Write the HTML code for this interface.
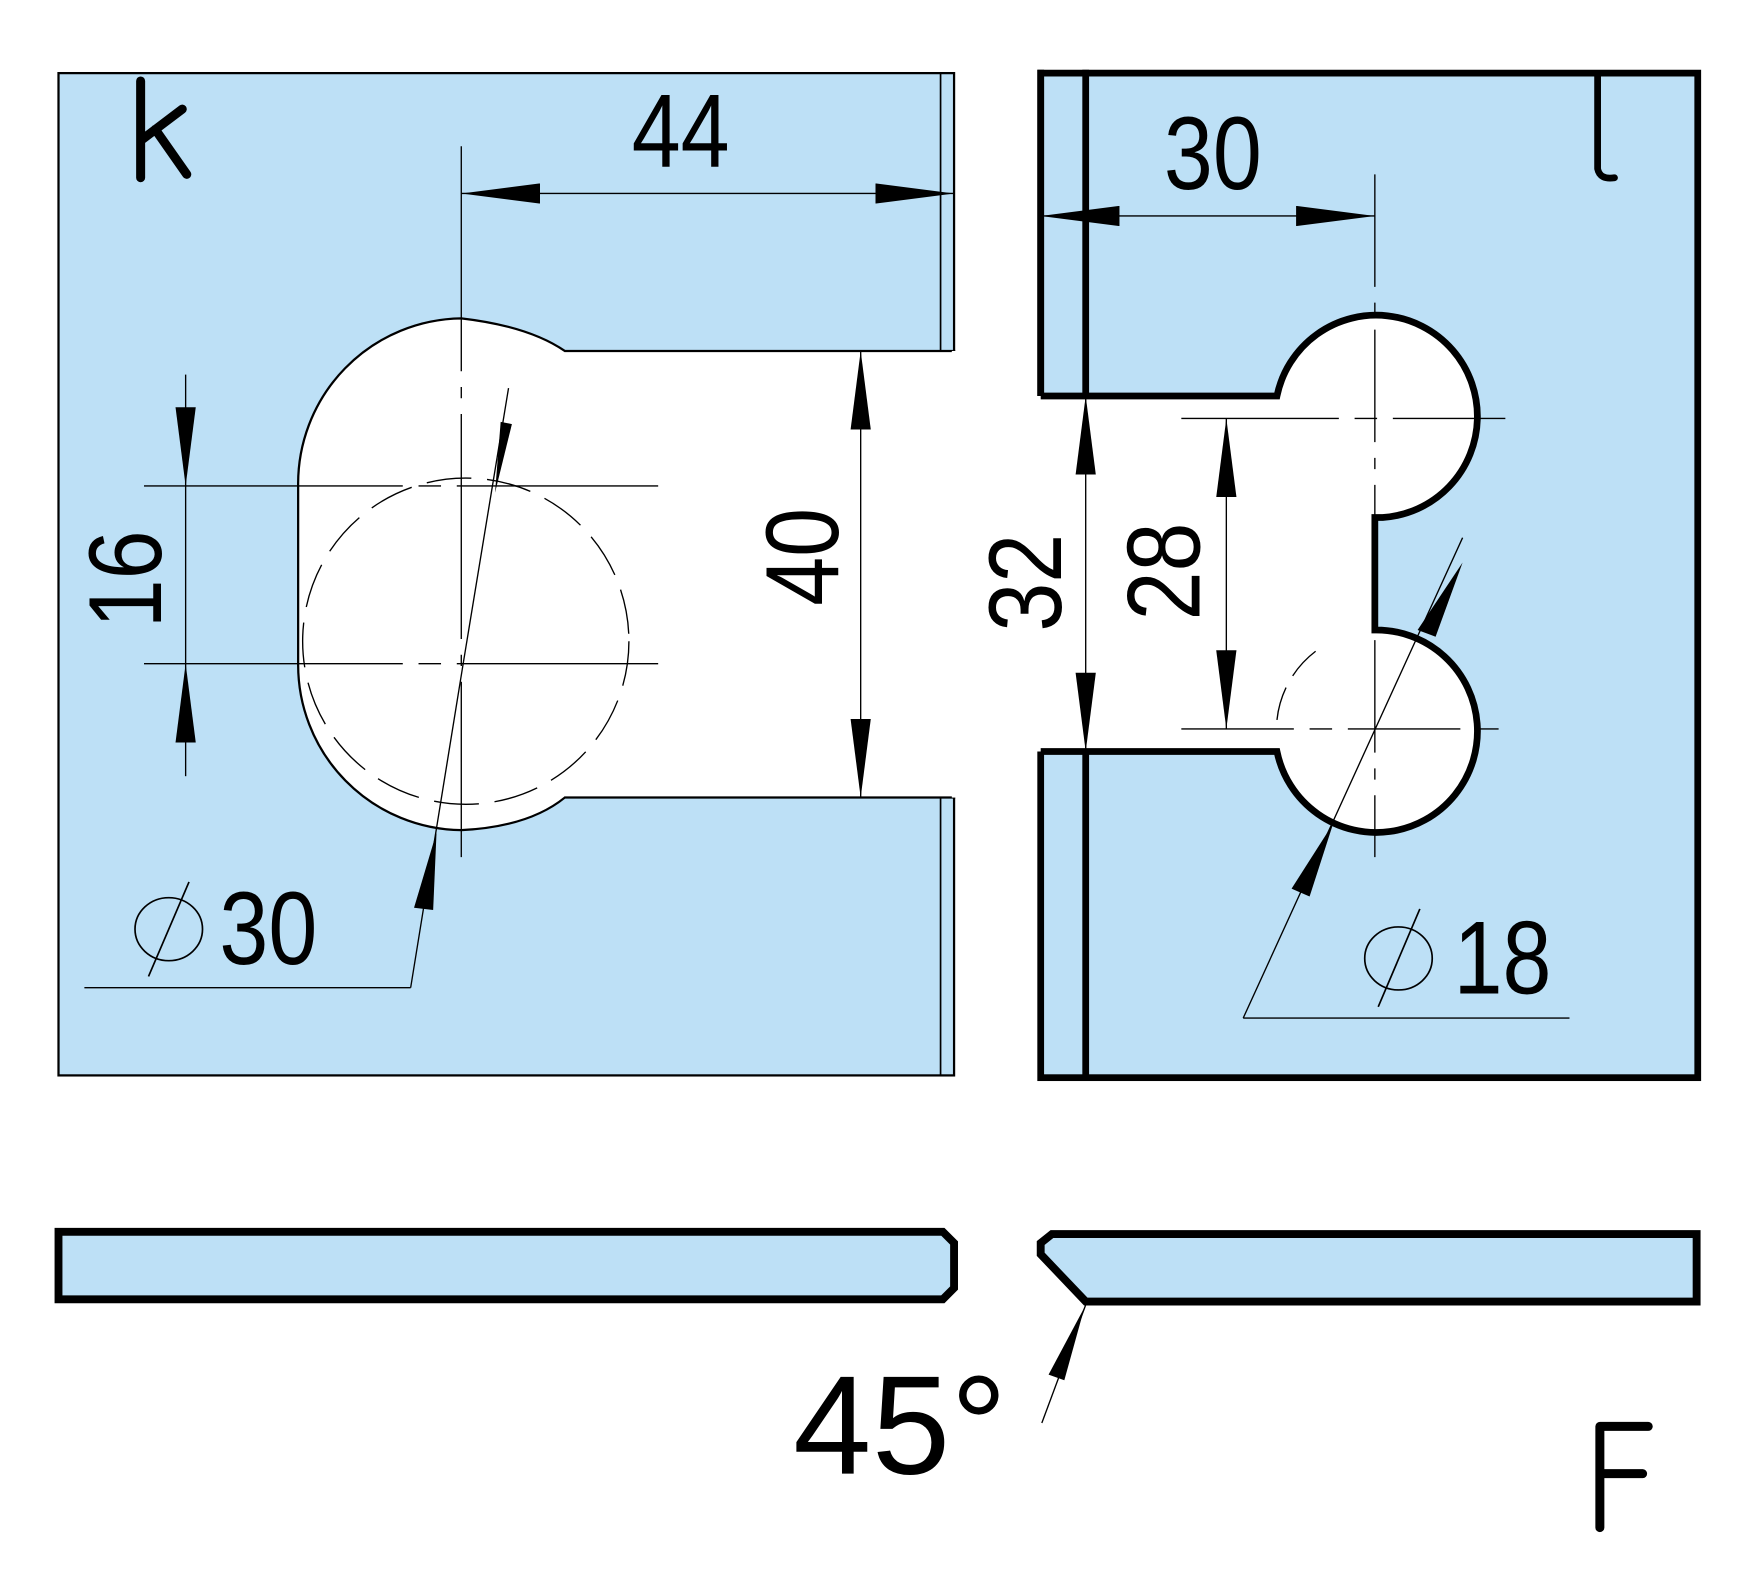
<!DOCTYPE html>
<html><head><meta charset="utf-8"><style>
html,body{margin:0;padding:0;background:#fff;}
svg{display:block;}
text{font-family:"Liberation Sans",sans-serif;fill:#000;}
</style></head><body>
<svg width="1763" height="1585" viewBox="0 0 1567 1409" preserveAspectRatio="none" xmlns="http://www.w3.org/2000/svg">
<defs>
<marker id="a" viewBox="0 0 70 18" refX="70" refY="9" markerWidth="70" markerHeight="18" markerUnits="userSpaceOnUse" orient="auto-start-reverse"><path d="M0,0 L70,9 L0,18 Z" fill="#000"/></marker>
</defs>
<!-- Left panel -->
<rect x="52" y="65" width="796" height="891" fill="#bde0f6" stroke="#000" stroke-width="2"/>
<path d="M848,312 L502,312 Q470,290 410,283 A147,147 0 0 0 265,432 L265,590 A147,147 0 0 0 410,738 Q470,735 502,709 L848,709 Z" fill="#fff" stroke="#000" stroke-width="2"/>
<rect x="846" y="312" width="6" height="397" fill="#fff"/>
<line x1="836" y1="65" x2="836" y2="312" stroke="#000" stroke-width="1.5"/>
<line x1="836" y1="709" x2="836" y2="956" stroke="#000" stroke-width="1.5"/>
<circle cx="414" cy="570" r="145" fill="none" stroke="#000" stroke-width="1.2" stroke-dasharray="40,14"/>
<g stroke="#000" stroke-width="1.2">
<line x1="410" y1="130" x2="410" y2="762" stroke-dasharray="200,14,10,14"/>
<line x1="128" y1="432" x2="585" y2="432" stroke-dasharray="230,14,20,14"/>
<line x1="128" y1="590" x2="585" y2="590" stroke-dasharray="230,14,20,14"/>
<line x1="410" y1="172" x2="848" y2="172" marker-start="url(#a)" marker-end="url(#a)"/>
<line x1="848" y1="166" x2="848" y2="312"/>
<line x1="765" y1="312" x2="765" y2="709" marker-start="url(#a)" marker-end="url(#a)"/>
<line x1="165" y1="333" x2="165" y2="432" marker-end="url(#a)"/>
<line x1="165" y1="690" x2="165" y2="590" marker-end="url(#a)"/>
<line x1="165" y1="432" x2="165" y2="590"/>
<line x1="452" y1="345" x2="412" y2="588"/>
<line x1="412" y1="588" x2="365" y2="878"/>
<line x1="365" y1="878" x2="75" y2="878"/>
</g>
<path d="M445,375 L455,377 L440,438 Z" fill="#000"/>
<path d="M368,807 L385,809 L388,740 Z" fill="#000"/>
<text x="605" y="148" font-size="92" text-anchor="middle" transform="translate(605,0) scale(0.85,1) translate(-605,0)">44</text>
<text x="0" y="0" font-size="92" text-anchor="middle" transform="translate(745,495) rotate(-90) scale(0.85,1)">40</text>
<text x="0" y="0" font-size="92" text-anchor="middle" transform="translate(143,515) rotate(-90) scale(0.85,1)">16</text>
<text x="195" y="857" font-size="92" transform="translate(195,0) scale(0.85,1) translate(-195,0)">30</text>
<ellipse cx="150" cy="826" rx="30" ry="28" fill="none" stroke="#000" stroke-width="1.5"/>
<line x1="132" y1="868" x2="168" y2="784" stroke="#000" stroke-width="1.5"/>
<path d="M125,72 L125,158 M125,125 L162,97 M138,115 L166,155" fill="none" stroke="#000" stroke-width="8" stroke-linecap="round"/>
<!-- Right panel -->
<rect x="925" y="65" width="584" height="893" fill="#bde0f6" stroke="#000" stroke-width="6"/>
<path d="M921,352 L1135,352 A90,90 0 1 1 1229,460 L1222,460 L1222,560 A90,90 0 1 1 1135,668 L921,668 Z" fill="#fff" stroke="none"/>
<path d="M925,352 L1135,352 A90,90 0 1 1 1229,460 L1222,460 L1222,560 A90,90 0 1 1 1135,668 L925,668" fill="none" stroke="#000" stroke-width="6"/>
<line x1="925" y1="62" x2="925" y2="352" stroke="#000" stroke-width="6"/>
<line x1="965" y1="62" x2="965" y2="352" stroke="#000" stroke-width="6"/>
<line x1="965" y1="668" x2="965" y2="961" stroke="#000" stroke-width="6"/>
<path d="M1420,68 L1420,150 Q1422,160 1435,158" fill="none" stroke="#000" stroke-width="6" stroke-linecap="round"/>
<g stroke="#000" stroke-width="1.2">
<line x1="1222" y1="155" x2="1222" y2="762" stroke-dasharray="100,14,10,14"/>
<line x1="1050" y1="372" x2="1338" y2="372" stroke-dasharray="140,14,20,14"/>
<line x1="1050" y1="648" x2="1338" y2="648" stroke-dasharray="100,14,20,14"/>
<line x1="925" y1="192" x2="1222" y2="192" marker-start="url(#a)" marker-end="url(#a)"/>
<line x1="965" y1="352" x2="965" y2="668" marker-start="url(#a)" marker-end="url(#a)"/>
<line x1="1090" y1="372" x2="1090" y2="648" marker-start="url(#a)" marker-end="url(#a)"/>
<line x1="1300" y1="478" x2="1105" y2="905"/>
<line x1="1105" y1="905" x2="1395" y2="905"/>
<path d="M1135,640 A88,88 0 0 1 1175,575" fill="none" stroke-dasharray="30,12"/>
</g>
<path d="M1260,560 L1276,566 L1300,500 Z" fill="#000"/>
<path d="M1148,790 L1164,797 L1185,732 Z" fill="#000"/>
<text x="1078" y="168" font-size="92" text-anchor="middle" transform="translate(1078,0) scale(0.85,1) translate(-1078,0)">30</text>
<text x="0" y="0" font-size="92" text-anchor="middle" transform="translate(943,518) rotate(-90) scale(0.85,1)">32</text>
<text x="0" y="0" font-size="92" text-anchor="middle" transform="translate(1066,508) rotate(-90) scale(0.85,1)">28</text>
<text x="1292" y="883" font-size="92" transform="translate(1292,0) scale(0.85,1) translate(-1292,0)">18</text>
<ellipse cx="1243" cy="852" rx="30" ry="28" fill="none" stroke="#000" stroke-width="1.5"/>
<line x1="1225" y1="895" x2="1262" y2="808" stroke="#000" stroke-width="1.5"/>
<!-- Bottom bars -->
<path d="M52,1095 L838,1095 L848,1105 L848,1145 L838,1155 L52,1155 Z" fill="#bde0f6" stroke="#000" stroke-width="7"/>
<path d="M935,1097 L1508,1097 L1508,1157 L965,1157 L925,1115 L925,1105 Z" fill="#bde0f6" stroke="#000" stroke-width="7"/>
<line x1="965" y1="1160" x2="926" y2="1265" stroke="#000" stroke-width="1.2"/>
<path d="M932,1222 L946,1227 L964,1162 Z" fill="#000"/>
<text x="705" y="1310" font-size="125" textLength="190" lengthAdjust="spacing">45°</text>
<path d="M1422,1268 L1422,1358 M1422,1268 L1465,1268 M1422,1310 L1460,1310" fill="none" stroke="#000" stroke-width="8" stroke-linecap="round"/>
</svg>
</body></html>
